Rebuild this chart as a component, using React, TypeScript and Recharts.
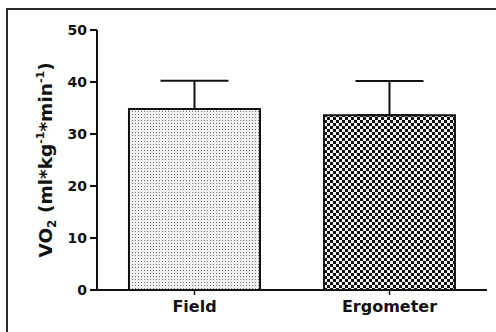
import { BarChart, Bar, Cell, XAxis, YAxis, ErrorBar } from "recharts";

const categories = ["Field", "Ergometer"];
const means = [34.8, 33.6];
const sds = [5.45, 6.6];
const yTicks = [0, 10, 20, 30, 40, 50];
const fills = ["url(#stipple)", "url(#checker)"];

const data = categories.map((name, i) => ({
  name,
  vo2: means[i],
  err: [0, sds[i]],
}));

const FONT = "'DejaVu Sans', Arial, sans-serif";

function YTitle() {
  const cx = 52;
  const cy = 160;
  return (
    <text
      x={cx}
      y={cy}
      transform={`rotate(-90, ${cx}, ${cy})`}
      textAnchor="middle"
      fontFamily={FONT}
      fontWeight="bold"
      fontSize={18.5}
      fill="#111"
    >
      VO
      <tspan fontSize={12} dy={4}>2</tspan>
      <tspan dy={-4}> (ml*kg</tspan>
      <tspan fontSize={11} dy={-8}>-1</tspan>
      <tspan dy={8}>*min</tspan>
      <tspan fontSize={11} dy={-8}>-1</tspan>
      <tspan dy={8}>)</tspan>
    </text>
  );
}

export default function App() {
  return (
    <div
      style={{
        position: "absolute",
        left: 0,
        top: 0,
        width: 496,
        height: 332,
        overflow: "hidden",
        background: "#fff",
      }}
    >
      <div
        style={{
          position: "absolute",
          left: 6,
          top: 8,
          width: 600,
          height: 400,
          borderTop: "2px solid #2a2a2a",
          borderLeft: "2px solid #2a2a2a",
        }}
      />
      <div style={{ position: "absolute", left: 0, top: 0 }}>
        <BarChart
          width={496}
          height={332}
          data={data}
          margin={{ top: 30, right: 9, bottom: 12, left: 0 }}
          barCategoryGap="16.4%"
        >
          <defs>
            <pattern id="stipple" width="3" height="3" patternUnits="userSpaceOnUse">
              <rect width="3" height="3" fill="#f2f2f2" />
              <rect width="1" height="1" fill="#707070" />
            </pattern>
            <pattern id="checker" width="6" height="6" patternUnits="userSpaceOnUse">
              <rect width="6" height="6" fill="#f4f4f4" />
              <rect width="3" height="3" fill="#111" />
              <rect x="3" y="3" width="3" height="3" fill="#111" />
            </pattern>
          </defs>
          <XAxis
            dataKey="name"
            height={30}
            axisLine={{ stroke: "#111", strokeWidth: 2 }}
            tickLine={{ stroke: "#111", strokeWidth: 1.5 }}
            tickSize={5}
            tickMargin={6}
            tick={{ fill: "#111", fontFamily: FONT, fontWeight: "bold", fontSize: 16 }}
          />
          <YAxis
            width={97}
            domain={[0, 50]}
            ticks={yTicks}
            interval={0}
            axisLine={{ stroke: "#111", strokeWidth: 2 }}
            tickLine={{ stroke: "#111", strokeWidth: 2 }}
            tickSize={7}
            tickMargin={3}
            tick={{ fill: "#111", fontFamily: FONT, fontWeight: "bold", fontSize: 14 }}
            label={<YTitle />}
          />
          <Bar dataKey="vo2" stroke="#111" strokeWidth={2} isAnimationActive={false}>
            {data.map((_, i) => (
              <Cell key={i} fill={fills[i]} />
            ))}
            <ErrorBar dataKey="err" width={34} stroke="#111" strokeWidth={2} isAnimationActive={false} />
          </Bar>
        </BarChart>
      </div>
    </div>
  );
}
